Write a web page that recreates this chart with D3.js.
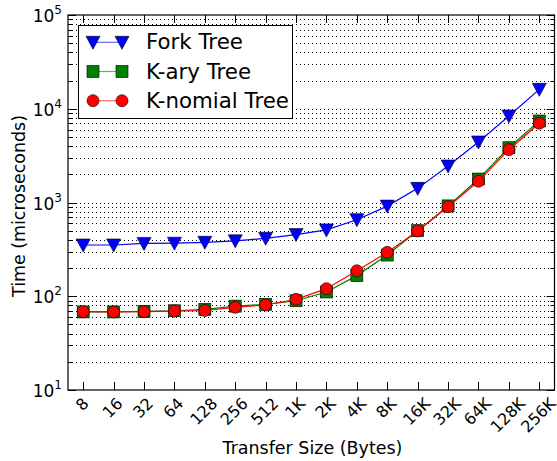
<!DOCTYPE html>
<html>
<head>
<meta charset="utf-8">
<script src="https://cdn.jsdelivr.net/npm/d3@7"></script>
<style>
body { margin: 0; background: #fff; }
text { font-family: "DejaVu Sans", sans-serif; fill: #000; }
</style>
</head>
<body>
<svg id="chart" width="557" height="461"></svg>
<script>
// data
var sizes = ['8','16','32','64','128','256','512','1K','2K','4K','8K','16K','32K','64K','128K','256K'];
var forkTree = [352, 352, 366, 368, 376, 390, 415, 455, 510, 655, 915, 1415, 2450, 4420, 8370, 16100];
var karyTree = [68, 68, 69, 70, 72.5, 78.5, 82, 89.5, 111, 166, 275, 500, 920, 1780, 3840, 7400];
var knomialTree = [68.4, 68, 68.4, 69.5, 70.5, 76.2, 80.7, 92.7, 120.5, 187, 294, 497, 902, 1683, 3660, 7000];
var yTicks = [10, 100, 1000, 10000, 100000];

var series = [
	{name: 'Fork Tree', values: forkTree, color: '#0000ff', marker: 'tri'},
	{name: 'K-ary Tree', values: karyTree, color: '#008000', marker: 'sq'},
	{name: 'K-nomial Tree', values: knomialTree, color: '#ff0000', marker: 'circ'}
];

var svg = d3.select('#chart');
var L = 68, R = 554.5, T = 15, B = 390;

var x = d3.scaleLinear().domain([-0.5, sizes.length - 0.5]).range([L, R]);
var y = d3.scaleLog().domain([10, 100000]).range([B, T]);

// size a text so it spans the given width
function fitText(sel, target) {
	sel.style('font-size', '20px');
	var w = sel.node().getComputedTextLength();
	sel.style('font-size', (20 * target / w).toFixed(2) + 'px');
}

// grid (every log tick, dotted)
var allTicks = y.ticks();
svg.append('g').selectAll('line')
	.data(allTicks.filter(function(t){ return t > 10 && t < 100000; }))
	.enter().append('line')
	.attr('x1', L).attr('x2', R)
	.attr('y1', function(d){ return Math.round(y(d)) + 0.5; })
	.attr('y2', function(d){ return Math.round(y(d)) + 0.5; })
	.attr('stroke', '#000').attr('stroke-width', 1)
	.attr('stroke-dasharray', '1,3');

// ticks
var tk = svg.append('g').attr('stroke', '#000').attr('stroke-width', 1);
allTicks.forEach(function(t){
	var major = yTicks.indexOf(t) >= 0;
	var len = major ? 8 : 4;
	var yy = Math.round(y(t)) + 0.5;
	tk.append('line').attr('x1', L).attr('x2', L + len).attr('y1', yy).attr('y2', yy);
	tk.append('line').attr('x1', R).attr('x2', R - len).attr('y1', yy).attr('y2', yy);
});
sizes.forEach(function(s, i){
	var xx = Math.round(x(i)) + 0.5;
	tk.append('line').attr('x1', xx).attr('x2', xx).attr('y1', B).attr('y2', B - 8);
	tk.append('line').attr('x1', xx).attr('x2', xx).attr('y1', T).attr('y2', T + 8);
});

// y tick labels
yTicks.forEach(function(t){
	var txt = svg.append('text')
		.attr('x', L - 6).attr('y', y(t) + 7)
		.attr('text-anchor', 'end')
		.style('font-size', '17px');
	txt.append('tspan').text('10');
	txt.append('tspan').text(Math.round(Math.log10(t)))
		.attr('dy', -8).style('font-size', '12px');
});

// x tick labels, rotated 45 and centred on the tick
sizes.forEach(function(s, i){
	var t = svg.append('text').text(s)
		.style('font-size', '16px')
		.attr('text-anchor', 'middle')
		.attr('dominant-baseline', 'central');
	var w = t.node().getComputedTextLength();
	var h = 13;
	var off = (w + h) * 0.7071 / 2;
	t.attr('transform', 'translate(' + (x(i) - 1) + ',' + (B + 6 + off) + ') rotate(-45)');
});

// axis titles
var xt = svg.append('text').text('Transfer Size (Bytes)')
	.attr('x', 312.5).attr('y', 454)
	.attr('text-anchor', 'middle');
fitText(xt, 180);
var yt = svg.append('text').text('Time (microseconds)')
	.attr('transform', 'translate(25,206) rotate(-90)')
	.attr('text-anchor', 'middle');
fitText(yt, 182);

function drawMarker(g, type, color, cx, cy) {
	if (type === 'tri') {
		g.append('path')
			.attr('d', 'M' + (cx - 7) + ',' + (cy - 6) + 'L' + (cx + 7) + ',' + (cy - 6) + 'L' + cx + ',' + (cy + 7) + 'Z')
			.attr('fill', color).attr('stroke', '#000').attr('stroke-width', 0.6);
	} else if (type === 'sq') {
		g.append('rect').attr('x', cx - 6).attr('y', cy - 6).attr('width', 12).attr('height', 12)
			.attr('fill', color).attr('stroke', '#000').attr('stroke-width', 0.6);
	} else {
		g.append('circle').attr('cx', cx).attr('cy', cy).attr('r', 6)
			.attr('fill', color).attr('stroke', '#000').attr('stroke-width', 0.6);
	}
}

// series lines and markers
var line = d3.line()
	.x(function(d, i){ return x(i); })
	.y(function(d){ return y(d); });

series.forEach(function(s){
	var g = svg.append('g');
	g.append('path').datum(s.values)
		.attr('d', line)
		.attr('fill', 'none')
		.attr('stroke', s.color)
		.attr('stroke-width', 1.2);
	s.values.forEach(function(v, i){
		drawMarker(g, s.marker, s.color, x(i), y(v));
	});
});

// frame
svg.append('rect').attr('x', L).attr('y', T).attr('width', R - L).attr('height', B - T)
	.attr('fill', 'none').attr('stroke', '#000').attr('stroke-width', 1.2);

// legend
var lg = svg.append('g');
lg.append('rect').attr('x', 78.5).attr('y', 25.5).attr('width', 214).attr('height', 93)
	.attr('fill', '#fff').attr('stroke', '#000').attr('stroke-width', 1);
var legendSize = null;
series.forEach(function(s, i){
	var ly = 42.3 + i * 29.2;
	lg.append('line').attr('x1', 93).attr('x2', 122).attr('y1', ly).attr('y2', ly)
		.attr('stroke', s.color).attr('stroke-width', 1.2).attr('stroke-opacity', 0.6);
	drawMarker(lg, s.marker, s.color, 93, ly);
	drawMarker(lg, s.marker, s.color, 122, ly);
	var t = lg.append('text').text(s.name)
		.attr('x', 146).attr('y', ly + 7);
	if (s.name === 'K-nomial Tree') {
		fitText(t, 143);
		legendSize = t.style('font-size');
	}
});
lg.selectAll('text').style('font-size', legendSize);
</script>
</body>
</html>
